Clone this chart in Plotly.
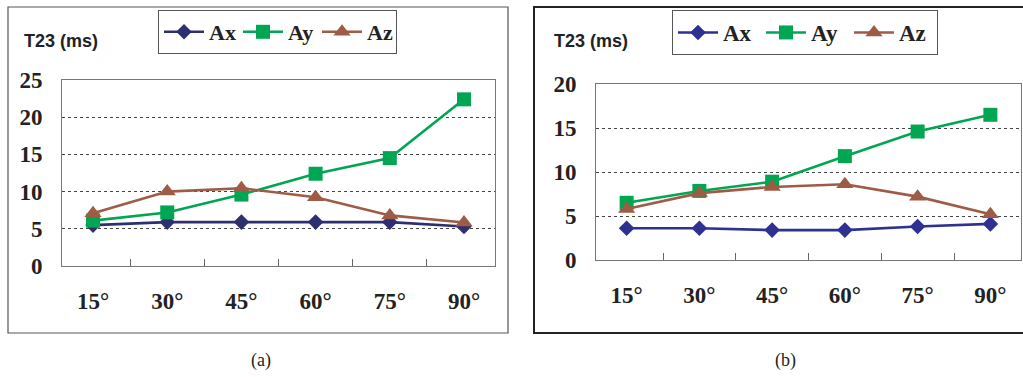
import plotly.graph_objects as go

W, H = 1023, 377

categories = ["15°", "30°", "45°", "60°", "75°", "90°"]

# Panel (a)
a_ax = [5.5, 5.9, 5.9, 5.9, 5.9, 5.3]
a_ay = [6.1, 7.2, 9.6, 12.4, 14.5, 22.4]
a_az = [7.1, 10.0, 10.45, 9.25, 6.8, 5.85]

# Panel (b)
b_ax = [3.6, 3.6, 3.4, 3.4, 3.8, 4.1]
b_ay = [6.5, 7.85, 8.9, 11.8, 14.6, 16.5]
b_az = [5.8, 7.6, 8.3, 8.6, 7.2, 5.2]

series_names = ["Ax", "Ay", "Az"]

def px_x(p):
    return p / W

def px_y(p):
    return 1 - p / H

serif = "Liberation Serif, Times New Roman, serif"
sans = "Liberation Sans, Arial, sans-serif"

col_ax_a = "#2E2F6E"
col_ax_b = "#2E3192"
col_ay = "#00A651"
col_az = "#9E5B45"

fig = go.Figure()

def add_panel(xa, ya, leg, vals, ax_col):
    styles = [
        dict(color=ax_col, symbol="diamond", size=12),
        dict(color=col_ay, symbol="square", size=14),
        dict(color=col_az, symbol="triangle-up", size=15),
    ]
    for name, v, st in zip(series_names, vals, styles):
        fig.add_trace(go.Scatter(
            x=categories, y=v, name=name, mode="lines+markers",
            xaxis=xa, yaxis=ya, legend=leg,
            line=dict(color=st["color"], width=2.6),
            marker=dict(color=st["color"], symbol=st["symbol"], size=st["size"]),
        ))

add_panel("x", "y", "legend", [a_ax, a_ay, a_az], col_ax_a)
add_panel("x2", "y2", "legend2", [b_ax, b_ay, b_az], col_ax_b)

xcommon = dict(
    type="category", tickson="boundaries", ticks="inside", ticklen=7,
    tickcolor="#666", tickwidth=1, showline=True, mirror=True,
    linecolor="#777", linewidth=1, showgrid=False, zeroline=False,
    tickfont=dict(family=serif, size=23, color="#222", weight="bold"),
    ticklabelstandoff=14, automargin=False,
)
ycommon = dict(
    showline=True, mirror=True, linecolor="#777", linewidth=1,
    showgrid=True, gridcolor="#444", gridwidth=1, griddash="dot",
    zeroline=False, ticks="", dtick=5,
    tickfont=dict(family=serif, size=23, color="#222", weight="bold"),
    ticklabelstandoff=14, automargin=False,
)

fig.update_layout(
    width=W, height=H,
    margin=dict(l=0, r=0, t=0, b=0, pad=0, autoexpand=False),
    paper_bgcolor="white", plot_bgcolor="white",
    xaxis=dict(domain=[px_x(62), px_x(495)], anchor="y", **xcommon),
    yaxis=dict(domain=[px_y(266), px_y(80)], anchor="x", range=[0, 25], **ycommon),
    xaxis2=dict(domain=[px_x(596), px_x(1021)], anchor="y2", **xcommon),
    yaxis2=dict(domain=[px_y(260), px_y(84)], anchor="x2", range=[0, 20], **ycommon),
    legend=dict(
        orientation="h", x=px_x(158), y=px_y(10), xanchor="left", yanchor="top",
        bordercolor="#555", borderwidth=1, bgcolor="white",
        font=dict(family=serif, size=22, color="#222", weight="bold"),
        itemwidth=40, entrywidth=24, entrywidthmode="pixels",
    ),
    legend2=dict(
        orientation="h", x=px_x(672), y=px_y(10), xanchor="left", yanchor="top",
        bordercolor="#555", borderwidth=1, bgcolor="white",
        font=dict(family=serif, size=23, color="#222", weight="bold"),
        itemwidth=40, entrywidth=33, entrywidthmode="pixels",
    ),
    showlegend=True,
)

# outer panel frames
fig.add_shape(type="rect", xref="paper", yref="paper",
              x0=px_x(8), x1=px_x(508), y0=px_y(333), y1=px_y(7),
              line=dict(color="#555", width=1.2), layer="below")
fig.add_shape(type="rect", xref="paper", yref="paper",
              x0=px_x(534), x1=px_x(1030), y0=px_y(333), y1=px_y(7),
              line=dict(color="#222", width=2), layer="below")

# y-axis titles
for xp in (22, 552):
    fig.add_annotation(text="T23 (ms)", xref="paper", yref="paper",
                       x=px_x(xp), y=px_y(41), xanchor="left", yanchor="middle",
                       showarrow=False,
                       font=dict(family=sans, size=18, color="#222", weight="bold"))

# captions
for xp, t in ((261, "(a)"), (785, "(b)")):
    fig.add_annotation(text=t, xref="paper", yref="paper",
                       x=px_x(xp), y=px_y(360), xanchor="center", yanchor="middle",
                       showarrow=False,
                       font=dict(family=serif, size=18, color="#222"))

fig.write_html("out.html", config={"displayModeBar": False, "staticPlot": True},
               post_script="document.body.style.margin='0';document.body.style.overflow='hidden';")
